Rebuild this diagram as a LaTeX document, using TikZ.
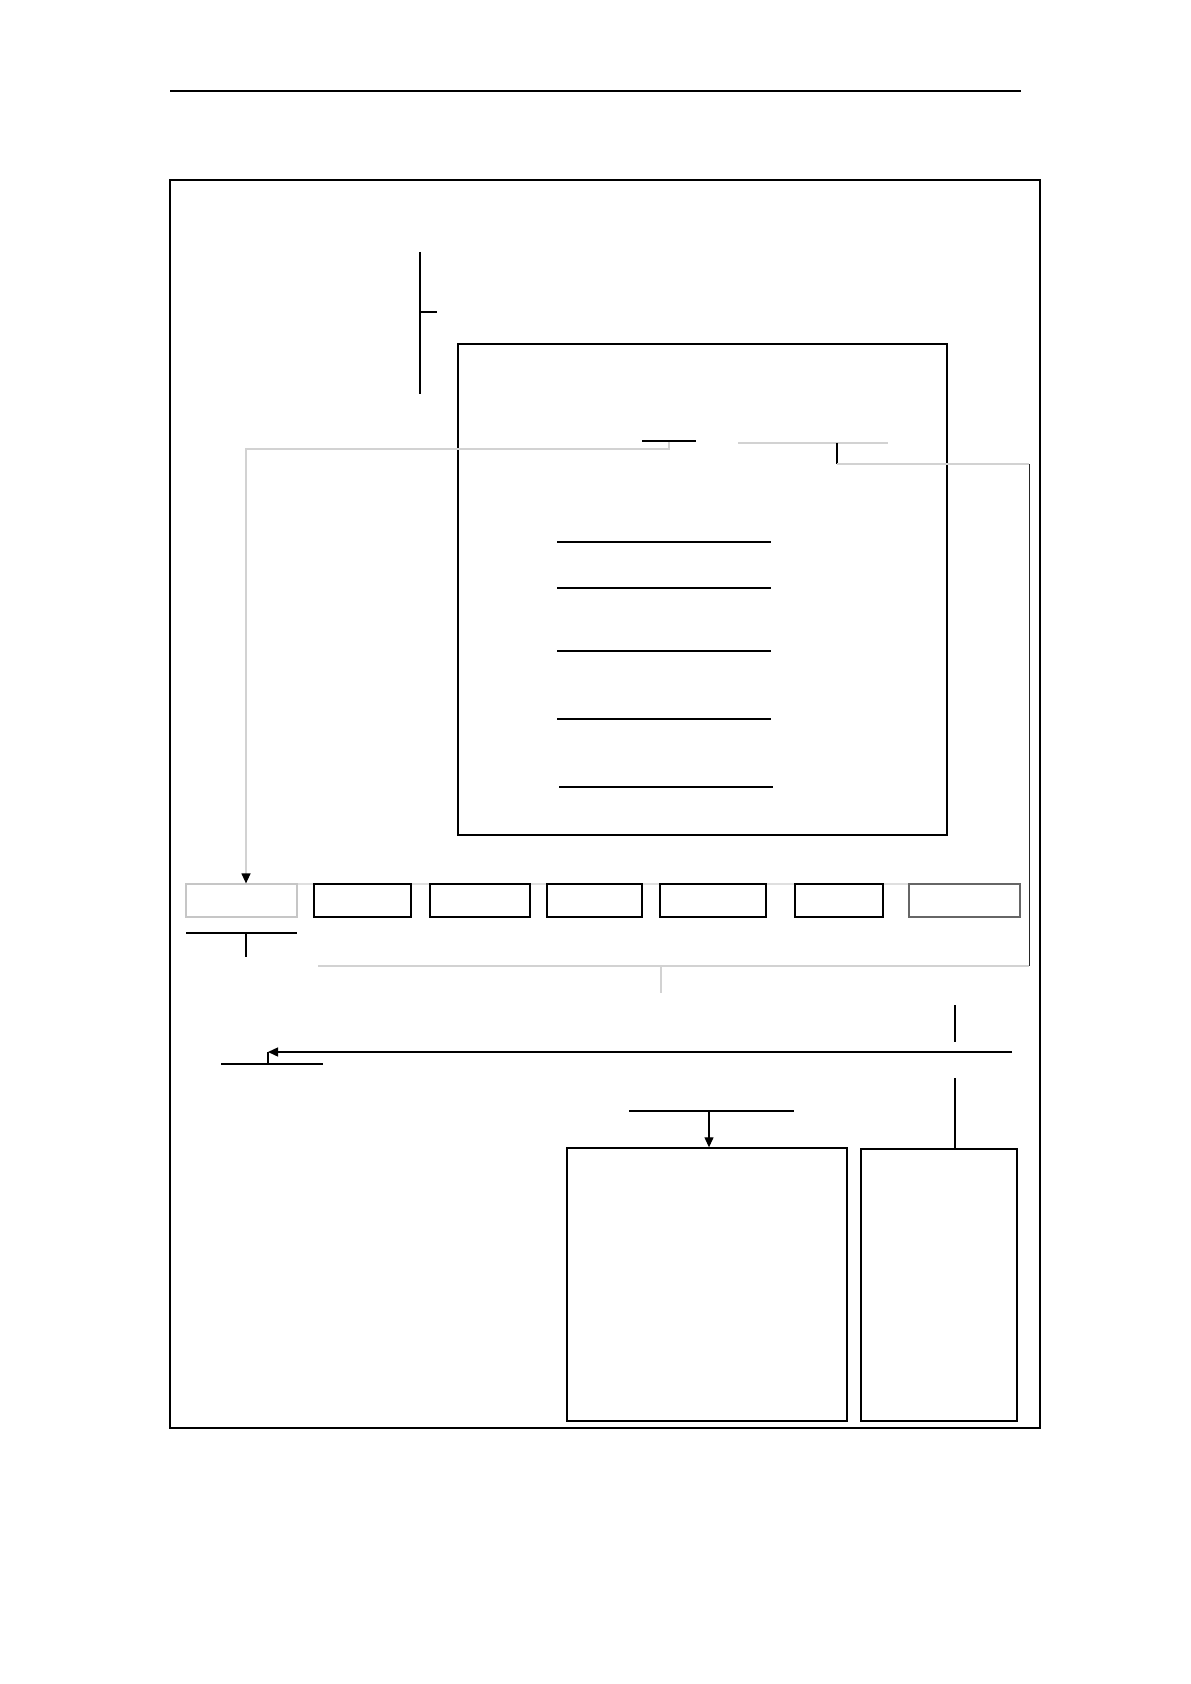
\documentclass[tikz,border=0pt]{standalone}
\usepackage{tikz}
\usetikzlibrary{arrows,arrows.meta,calc}

\begin{document}
\begin{tikzpicture}[>={Triangle[length=5pt,width=4.5pt]}, x=0.5pt, y=-0.5pt]
 \tikzstyle{box}=[draw, line width=0.7pt, inner sep=0pt, minimum height=16.5pt]
 \tikzstyle{wire}=[draw=gray!35, line width=0.6pt]
 \tikzstyle{rule}=[draw, line width=0.7pt]
 \useasboundingbox (0,0) rectangle (1190,1684);

 \draw[rule] (170,91) -- (1021,91);
 \node (frame) at (605,804) [box, minimum width=435pt, minimum height=624pt] {};
 \node (panel) at (702.5,589.5) [box, minimum width=244.5pt, minimum height=245.5pt] {};

 % stage boxes
 \draw[wire, draw=gray!25] (186,884) -- (1020,884);
 \node (s1) at (241.5,900.5) [box, draw=gray!45, line width=0.6pt, minimum width=55.5pt] {};
 \node (s2) at (362.5,900.5) [box, minimum width=48.5pt] {};
 \node (s3) at (480,900.5) [box, minimum width=50pt] {};
 \node (s4) at (594.5,900.5) [box, minimum width=47.5pt] {};
 \node (s5) at (713,900.5) [box, minimum width=53pt] {};
 \node (s6) at (839,900.5) [box, minimum width=44pt] {};
 \node (s7) at (964.5,900.5) [box, draw=gray!80!black, minimum width=55.5pt] {};

 \node (outA) at (707,1284.5) [box, minimum width=140pt, minimum height=136.5pt] {};
 \node (outB) at (939,1285) [box, minimum width=78pt, minimum height=136pt] {};

 \coordinate (tapL) at (246,449);
 \coordinate (stubL) at (669,442);
 \coordinate (tapR) at (837,443);
 \coordinate (cornR) at (1029,464);
 \coordinate (busR) at (1012,1052);
 \coordinate (busL) at (268,1052);
 \coordinate (dropA) at (709,1111);
 \coordinate (dropB) at (955,1078);

 % upper left marker
 \draw[rule] (420,252) -- (420,394);
 \draw[rule] (420,312) -- (437,312);

 % lines inside the panel
 \foreach \y in {542,588,651,719}
  \draw[rule] (557,\y) -- (771,\y);
 \draw[rule] (559,787) -- (773,787);
 \draw[rule] (642,441) -- (696,441);
 \draw[wire] (738,443) -- (888,443);

 % feed into the first stage
 \draw[wire, arrows={-{Triangle[length=5pt,width=4.5pt,black]}}] (stubL) |- (tapL) -- (tapL |- s1.north);

 % return path on the right
 \draw[line width=0.6pt] (tapR) -- (tapR |- cornR);
 \draw[wire] (tapR |- cornR) -- (cornR);
 \draw[line width=0.5pt, draw=black!85] (cornR) -- (1029,966);
 \draw[wire] (1029,966) -- (318,966);
 \draw[wire] (661,966) -- (661,993);

 \draw[rule] (186,933) -- (297,933);
 \draw[line width=0.6pt] (246,933) -- (246,957);

 % lower connectors
 \draw[line width=0.6pt] (955,1005) -- (955,1042);
 \draw[rule, ->] (busR) -- (busL);
 \draw[line width=0.6pt] (busL) -- (busL |- 0,1064);
 \draw[rule] (221,1064) -- (323,1064);
 \draw[rule] (629,1111) -- (794,1111);
 \draw[line width=0.6pt, ->] (dropA) -- (dropA |- outA.north);
 \draw[line width=0.6pt] (dropB) -- (dropB |- outB.north);

\end{tikzpicture}
\end{document}
